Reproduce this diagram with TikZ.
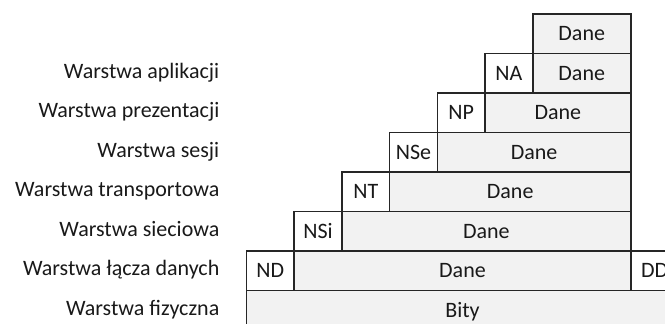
\documentclass[tikz,border=0pt]{standalone}
\usepackage{fontspec}
\setmainfont{Carlito}
\begin{document}
\begin{tikzpicture}[x=1pt,y=-1pt,
  cell/.style={draw=black!85, line width=1.6pt, rectangle, inner sep=0pt,
    minimum height=39.5pt, anchor=north west, text height=14.6pt, text depth=0pt,
    font=\fontsize{22}{26}\selectfont, text=black!90},
  hdr/.style={cell, fill=white, minimum width=47.7pt},
  data/.style={cell, fill=black!5},
  lbl/.style={anchor=base east, inner sep=0pt, font=\fontsize{22}{26}\selectfont, text=black!90}]
\clip (0,0) rectangle (665,324);

% layer names
\node[lbl] (l2) at (219.5,78.3)  {Warstwa aplikacji};
\node[lbl] (l3) at (219.5,117.8) {Warstwa prezentacji};
\node[lbl] (l4) at (219.5,157.3) {Warstwa sesji};
\node[lbl] (l5) at (219.5,196.8) {Warstwa transportowa};
\node[lbl] (l6) at (219.5,236.3) {Warstwa sieciowa};
\node[lbl] (l7) at (219.5,275.8) {Warstwa łącza danych};
\node[lbl] (l8) at (219.5,315.3) {Warstwa fizyczna};

% encapsulation staircase
\node[data, minimum width=98.1pt]  (d1) at (531.9,13)   {Dane};
\node[hdr]  (na)  at (484.2,52.5)  {NA};
\node[data, minimum width=98.1pt]  (d2) at (531.9,52.5) {Dane};
\node[hdr]  (np)  at (436.5,92)    {NP};
\node[data, minimum width=145.8pt] (d3) at (484.2,92)   {Dane};
\node[hdr]  (nse) at (388.8,131.5) {NSe};
\node[data, minimum width=193.5pt] (d4) at (436.5,131.5) {Dane};
\node[hdr]  (nt)  at (341.1,171)   {NT};
\node[data, minimum width=241.2pt] (d5) at (388.8,171)  {Dane};
\node[hdr]  (nsi) at (293.4,210.5) {NSi};
\node[data, minimum width=288.9pt] (d6) at (341.1,210.5) {Dane};
\node[hdr]  (nd)  at (245.7,250)   {ND};
\node[data, minimum width=336.6pt] (d7) at (293.4,250)  {Dane};
\node[hdr]  (dd)  at (630,250)     {DD};
\node[data, minimum width=432pt]   (bity) at (245.7,289.5) {Bity};
\end{tikzpicture}
\end{document}
